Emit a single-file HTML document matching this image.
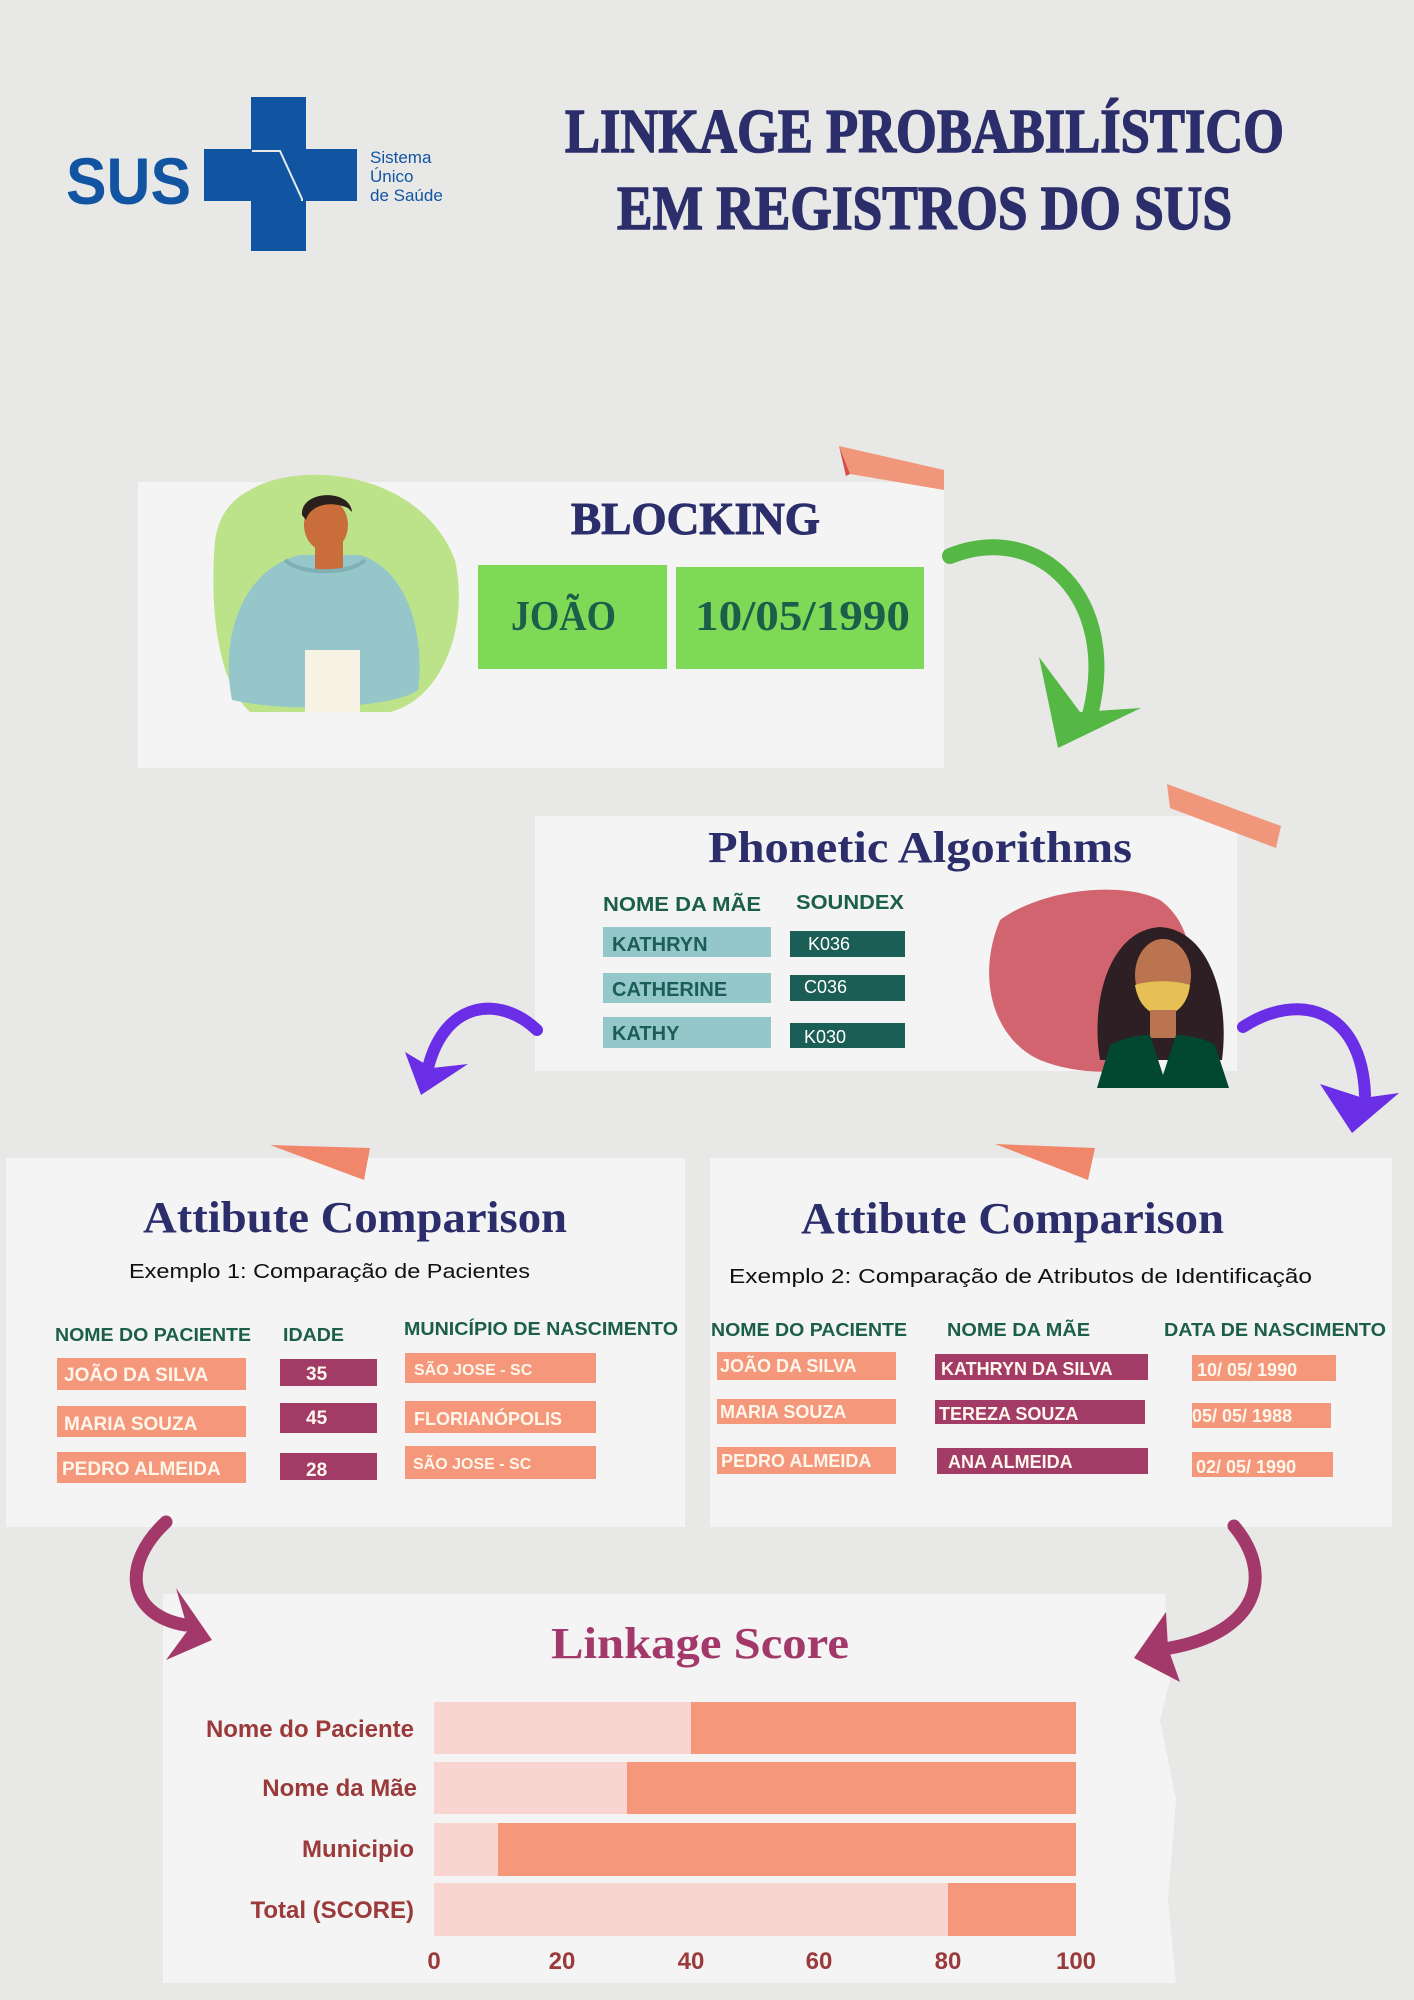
<!DOCTYPE html>
<html><head><meta charset="utf-8">
<style>
html,body{margin:0;padding:0;background:#e8e8e7;}
svg{display:block;}
.disp{font-family:"Liberation Serif",serif;font-weight:bold;}
.sans{font-family:"Liberation Sans",sans-serif;font-weight:bold;}
</style></head>
<body>
<svg width="1414" height="2000" viewBox="0 0 1414 2000" xmlns="http://www.w3.org/2000/svg">
<rect width="1414" height="2000" fill="#e8e8e7"/>

<!-- SUS logo -->
<text x="66" y="204" class="sans" font-size="66" fill="#1155a2" textLength="125" lengthAdjust="spacingAndGlyphs">SUS</text>
<rect x="251" y="97" width="55" height="154" fill="#1155a2"/>
<rect x="204" y="149" width="153" height="52" fill="#1155a2"/>
<path d="M252,151 L280,151 L302,199 L302,201" stroke="#e8e8e7" stroke-width="2" fill="none"/>
<text x="370" y="163" font-family="Liberation Sans,sans-serif" font-size="17" fill="#1155a2">Sistema</text>
<text x="370" y="182" font-family="Liberation Sans,sans-serif" font-size="17" fill="#1155a2">Único</text>
<text x="370" y="201" font-family="Liberation Sans,sans-serif" font-size="17" fill="#1155a2">de Saúde</text>

<!-- Title -->
<text x="565" y="152" class="disp" font-size="62" fill="#2b2e6b" stroke="#2b2e6b" stroke-width="1.5" textLength="719" lengthAdjust="spacingAndGlyphs">LINKAGE PROBABILÍSTICO</text>
<text x="617" y="229" class="disp" font-size="62" fill="#2b2e6b" stroke="#2b2e6b" stroke-width="1.5" textLength="615" lengthAdjust="spacingAndGlyphs">EM REGISTROS DO SUS</text>

<!-- Blocking card -->
<rect x="138" y="482" width="806" height="286" fill="#f4f4f4"/>
<polygon points="839,446 944,470 944,490 850,474" fill="#f0967a"/>
<polygon points="839,446 850,474 846,476" fill="#d94a4a"/>
<path d="M250,490 C300,460 420,470 455,560 C470,630 440,700 390,712 L250,712 C215,680 210,600 215,540 C220,510 235,498 250,490 Z" fill="#bde38a"/>
<!-- man -->
<path d="M232,700 C220,640 240,570 300,555 L360,555 C410,570 425,640 418,690 C400,705 300,715 232,700 Z" fill="#95c6c9"/>
<rect x="305" y="650" width="55" height="62" fill="#f6f2e4"/>
<rect x="315" y="530" width="28" height="40" fill="#c96d3a"/>
<ellipse cx="326" cy="525" rx="22" ry="26" fill="#c96d3a"/>
<path d="M302,515 C300,490 350,488 352,512 L348,508 C330,500 310,505 306,520 Z" fill="#2a1f1c"/>
<path d="M285,560 C300,575 350,575 365,560" stroke="#7fb0b4" stroke-width="4" fill="none"/>

<text x="571" y="534" class="disp" font-size="46" fill="#2b2e6b" stroke="#2b2e6b" stroke-width="1" textLength="249" lengthAdjust="spacingAndGlyphs">BLOCKING</text>
<rect x="478" y="565" width="189" height="104" fill="#7ed957"/>
<rect x="676" y="567" width="248" height="102" fill="#7ed957"/>
<text x="511" y="630" class="disp" font-size="42" fill="#1b5e4a" textLength="105" lengthAdjust="spacingAndGlyphs">JOÃO</text>
<text x="695" y="630" class="disp" font-size="42" fill="#1b5e4a" textLength="215" lengthAdjust="spacingAndGlyphs">10/05/1990</text>

<!-- green arrow -->
<path d="M950,556 C1040,520 1120,600 1090,715" stroke="#55b845" stroke-width="16" fill="none" stroke-linecap="round"/>
<polygon points="1039,657 1058,748 1141,708 1080,712" fill="#55b845"/>

<!-- Phonetic card -->
<rect x="535" y="816" width="702" height="255" fill="#f4f4f4"/>
<polygon points="1167,784 1281,826 1276,848 1170,808" fill="#f0967a"/>
<text x="708" y="862" class="disp" font-size="44" fill="#2b2e6b" textLength="424" lengthAdjust="spacingAndGlyphs">Phonetic Algorithms</text>
<text x="603" y="911" class="sans" font-size="20" fill="#1b5e4a" textLength="158" lengthAdjust="spacingAndGlyphs">NOME DA MÃE</text>
<text x="796" y="909" class="sans" font-size="20" fill="#1b5e4a" textLength="108" lengthAdjust="spacingAndGlyphs">SOUNDEX</text>
<rect x="603" y="927" width="168" height="30" fill="#93c7c9"/>
<rect x="603" y="973" width="168" height="30" fill="#93c7c9"/>
<rect x="603" y="1017" width="168" height="31" fill="#93c7c9"/>
<text x="612" y="951" class="sans" font-size="20" fill="#1b5e55">KATHRYN</text>
<text x="612" y="996" class="sans" font-size="20" fill="#1b5e55">CATHERINE</text>
<text x="612" y="1040" class="sans" font-size="20" fill="#1b5e55">KATHY</text>
<rect x="790" y="931" width="115" height="26" fill="#1b5e55"/>
<rect x="790" y="975" width="115" height="26" fill="#1b5e55"/>
<rect x="790" y="1023" width="115" height="25" fill="#1b5e55"/>
<text x="808" y="950" font-family="Liberation Sans,sans-serif" font-size="18" fill="#fff">K036</text>
<text x="804" y="993" font-family="Liberation Sans,sans-serif" font-size="18" fill="#fff">C036</text>
<text x="804" y="1043" font-family="Liberation Sans,sans-serif" font-size="18" fill="#fff">K030</text>
<path d="M1000,920 C1040,890 1120,880 1160,900 C1195,925 1200,980 1180,1040 C1160,1075 1090,1080 1040,1060 C995,1040 975,980 1000,920 Z" fill="#d1646f"/>
<!-- woman -->
<path d="M1100,1060 C1090,1000 1110,930 1160,927 C1210,930 1230,1000 1222,1060 Z" fill="#2d1f24"/>
<ellipse cx="1163" cy="975" rx="28" ry="36" fill="#bb7450"/>
<path d="M1135,985 C1150,980 1175,980 1190,985 C1188,1005 1175,1015 1163,1016 C1150,1015 1138,1005 1135,985 Z" fill="#e6bf55"/>
<rect x="1150" y="1010" width="26" height="28" fill="#bb7450"/>
<path d="M1097,1088 L1110,1045 C1130,1035 1145,1035 1150,1035 L1163,1075 L1176,1035 C1185,1035 1205,1038 1215,1045 L1229,1088 Z" fill="#02472f"/>

<!-- purple arrows -->
<path d="M537,1030 C500,995 445,1000 428,1068" stroke="#6a2ee6" stroke-width="12" fill="none" stroke-linecap="round"/>
<polygon points="405,1052 421,1095 468,1064 432,1068" fill="#6a2ee6"/>
<path d="M1243,1027 C1300,990 1362,1010 1365,1095" stroke="#6a2ee6" stroke-width="12" fill="none" stroke-linecap="round"/>
<polygon points="1320,1084 1352,1133 1399,1093 1363,1098" fill="#6a2ee6"/>

<!-- Attribute cards -->
<rect x="6" y="1158" width="679" height="369" fill="#f4f4f4"/>
<rect x="710" y="1158" width="682" height="369" fill="#f4f4f4"/>
<polygon points="270,1145 370,1148 364,1180" fill="#f0876a"/>
<polygon points="995,1144 1095,1148 1088,1180" fill="#f0876a"/>
<text x="143" y="1232" class="disp" font-size="44" fill="#2b2e6b" textLength="424" lengthAdjust="spacingAndGlyphs">Attibute Comparison</text>
<text x="801" y="1233" class="disp" font-size="44" fill="#2b2e6b" textLength="423" lengthAdjust="spacingAndGlyphs">Attibute Comparison</text>
<text x="129" y="1278" font-family="Liberation Sans,sans-serif" font-size="20" fill="#111" textLength="401" lengthAdjust="spacingAndGlyphs">Exemplo 1: Comparação de Pacientes</text>
<text x="729" y="1283" font-family="Liberation Sans,sans-serif" font-size="20" fill="#111" textLength="583" lengthAdjust="spacingAndGlyphs">Exemplo 2: Comparação de Atributos de Identificação</text>

<g class="sans" font-size="18">
<text x="55" y="1341" fill="#1b5e4a" textLength="196" lengthAdjust="spacingAndGlyphs">NOME DO PACIENTE</text>
<text x="283" y="1341" fill="#1b5e4a" textLength="61" lengthAdjust="spacingAndGlyphs">IDADE</text>
<text x="404" y="1335" fill="#1b5e4a" textLength="274" lengthAdjust="spacingAndGlyphs">MUNICÍPIO DE NASCIMENTO</text>
<text x="711" y="1336" fill="#1b5e4a" textLength="196" lengthAdjust="spacingAndGlyphs">NOME DO PACIENTE</text>
<text x="947" y="1336" fill="#1b5e4a" textLength="143" lengthAdjust="spacingAndGlyphs">NOME DA MÃE</text>
<text x="1164" y="1336" fill="#1b5e4a" textLength="222" lengthAdjust="spacingAndGlyphs">DATA DE NASCIMENTO</text>
</g>

<g fill="#f4977a">
<rect x="57" y="1358" width="189" height="32"/>
<rect x="57" y="1406" width="189" height="31"/>
<rect x="57" y="1452" width="189" height="31"/>
<rect x="405" y="1353" width="191" height="30"/>
<rect x="405" y="1401" width="191" height="32"/>
<rect x="405" y="1446" width="191" height="33"/>
<rect x="717" y="1352" width="179" height="28"/>
<rect x="717" y="1399" width="179" height="25"/>
<rect x="717" y="1447" width="179" height="27"/>
<rect x="1192" y="1355" width="144" height="26"/>
<rect x="1192" y="1403" width="139" height="25"/>
<rect x="1192" y="1452" width="141" height="25"/>
</g>
<g fill="#a23b66">
<rect x="280" y="1359" width="97" height="27"/>
<rect x="280" y="1403" width="97" height="30"/>
<rect x="280" y="1453" width="97" height="27"/>
<rect x="935" y="1354" width="213" height="26"/>
<rect x="935" y="1400" width="210" height="24"/>
<rect x="937" y="1448" width="211" height="26"/>
</g>
<g class="sans" fill="#fff6ec" font-size="19">
<text x="64" y="1381">JOÃO DA SILVA</text>
<text x="64" y="1430">MARIA SOUZA</text>
<text x="62" y="1475">PEDRO ALMEIDA</text>
<text x="306" y="1380">35</text>
<text x="306" y="1424">45</text>
<text x="306" y="1476">28</text>
<text x="414" y="1375" font-size="16">SÃO JOSE - SC</text>
<text x="414" y="1425" font-size="18">FLORIANÓPOLIS</text>
<text x="413" y="1469" font-size="16">SÃO JOSE - SC</text>
<text x="720" y="1372" font-size="18">JOÃO DA SILVA</text>
<text x="720" y="1418" font-size="18">MARIA SOUZA</text>
<text x="721" y="1467" font-size="18">PEDRO ALMEIDA</text>
<text x="941" y="1375" font-size="18">KATHRYN DA SILVA</text>
<text x="939" y="1420" font-size="18">TEREZA SOUZA</text>
<text x="948" y="1468" font-size="18">ANA ALMEIDA</text>
<text x="1197" y="1376" font-size="18">10/ 05/ 1990</text>
<text x="1192" y="1422" font-size="18">05/ 05/ 1988</text>
<text x="1196" y="1473" font-size="18">02/ 05/ 1990</text>
</g>

<!-- Linkage score card -->
<path d="M163,1594 L1165,1594 L1170,1680 L1160,1720 L1176,1800 L1168,1900 L1176,1983 L163,1983 Z" fill="#f4f4f4"/>

<!-- maroon arrows (over card) -->
<path d="M166,1522 C120,1565 128,1615 185,1625" stroke="#a3396a" stroke-width="13" fill="none" stroke-linecap="round"/>
<polygon points="176,1588 212,1640 166,1660 188,1630" fill="#a3396a"/>
<path d="M1234,1526 C1275,1575 1258,1632 1170,1648" stroke="#a3396a" stroke-width="13" fill="none" stroke-linecap="round"/>
<polygon points="1166,1612 1134,1658 1180,1682 1168,1648" fill="#a3396a"/>

<text x="551" y="1658" class="disp" font-size="44" fill="#a3396a" textLength="298" lengthAdjust="spacingAndGlyphs">Linkage Score</text>
<g>
<rect x="434" y="1702" width="642" height="52" fill="#f8d5d1"/>
<rect x="691" y="1702" width="385" height="52" fill="#f4977a"/>
<rect x="434" y="1762" width="642" height="52" fill="#f8d5d1"/>
<rect x="627" y="1762" width="449" height="52" fill="#f4977a"/>
<rect x="434" y="1823" width="642" height="53" fill="#f8d5d1"/>
<rect x="498" y="1823" width="578" height="53" fill="#f4977a"/>
<rect x="434" y="1883" width="642" height="53" fill="#f8d5d1"/>
<rect x="948" y="1883" width="128" height="53" fill="#f4977a"/>
</g>
<g class="sans" font-size="24" fill="#9b3a3a" text-anchor="end">
<text x="414" y="1737">Nome do Paciente</text>
<text x="417" y="1796">Nome da Mãe</text>
<text x="414" y="1857">Municipio</text>
<text x="414" y="1918">Total (SCORE)</text>
</g>
<g class="sans" font-size="24" fill="#9b3a3a" text-anchor="middle">
<text x="434" y="1969">0</text>
<text x="562" y="1969">20</text>
<text x="691" y="1969">40</text>
<text x="819" y="1969">60</text>
<text x="948" y="1969">80</text>
<text x="1076" y="1969">100</text>
</g>
</svg>
</body></html>
